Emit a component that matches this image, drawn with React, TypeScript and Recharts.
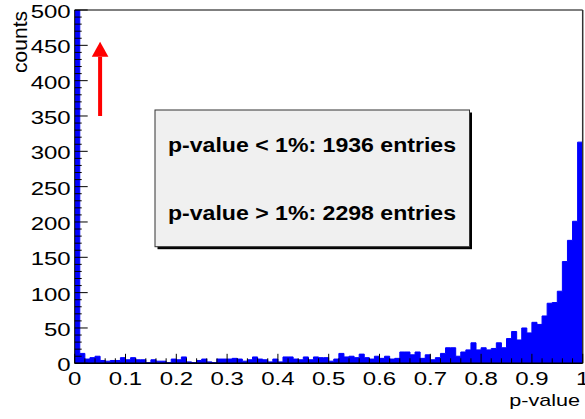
import React from 'react';
import { ComposedChart, Area, XAxis, YAxis, ReferenceLine } from 'recharts';

// Entries per p-value bin (100 bins of width 0.01 from 0 to 1)
const binCounts: number[] = [
  1936, 14, 6, 8, 10, 4, 3, 4, 4, 8,
  5, 8, 5, 5, 1, 5, 3, 3, 1, 6,
  5, 9, 2, 1, 4, 6, 2, 1, 6, 6,
  6, 7, 6, 3, 5, 9, 6, 5, 2, 6,
  2, 9, 9, 6, 5, 9, 5, 9, 8, 8,
  3, 6, 14, 9, 10, 8, 13, 8, 6, 10,
  7, 10, 6, 7, 16, 16, 12, 16, 7, 12,
  5, 8, 14, 22, 22, 10, 16, 19, 29, 19,
  22, 19, 21, 29, 22, 35, 45, 33, 50, 43,
  58, 55, 67, 85, 86, 102, 144, 174, 201, 313,
];
const binWidth = 0.01;

const xTickLabels = ['0', '0.1', '0.2', '0.3', '0.4', '0.5', '0.6', '0.7', '0.8', '0.9', '1'];
const yTickLabels = ['0', '50', '100', '150', '200', '250', '300', '350', '400', '450', '500'];

const legendLines = ['p-value < 1%: 1936 entries', 'p-value > 1%: 2298 entries'];
const xTitle = 'p-value';
const yTitle = 'counts';

// Arrow marking the overflowing first bin
const arrowFrom = { x: 0.05, y: 350 };
const arrowTo = { x: 0.05, y: 455 };

// Step outline: one point per bin lower edge, plus the closing edge at 1
const histData = [
  ...binCounts.map((c, i) => ({ edge: Number((i * binWidth).toFixed(2)), counts: c })),
  { edge: 1, counts: binCounts[binCounts.length - 1] },
];

// Major ticks every 0.1, minor every 0.02 on x; major every 50, minor every 10 on y
const xTicks = Array.from({ length: 51 }, (_, i) => Number((i * 0.02).toFixed(2)));
const yTicks = Array.from({ length: 51 }, (_, i) => i * 10);

const FONT = "'Liberation Sans', Arial, Helvetica, sans-serif";

const XTick = (props: any) => {
  const { x, y, index } = props;
  const major = index % 5 === 0;
  return (
    <g>
      <line x1={x} y1={y} x2={x} y2={y - (major ? 9.5 : 5)} stroke="#000" strokeWidth={1} />
      {major && (
        <text
          transform={`translate(${x},${y + 22}) scale(1.29,1)`}
          textAnchor="middle"
          fontFamily={FONT}
          fontSize={18.6}
          fill="#000"
        >
          {xTickLabels[index / 5]}
        </text>
      )}
    </g>
  );
};

const YTick = (props: any) => {
  const { x, y, index } = props;
  const major = index % 5 === 0;
  return (
    <g>
      <line x1={x} y1={y} x2={x + (major ? 13 : 7)} y2={y} stroke="#000" strokeWidth={1} />
      {major && (
        <text
          transform={`translate(${x - 4},${y + 8}) scale(1.29,1)`}
          textAnchor="end"
          fontFamily={FONT}
          fontSize={18.6}
          fill="#000"
        >
          {yTickLabels[index / 5]}
        </text>
      )}
    </g>
  );
};

const ArrowShape = (props: any) => {
  const { x1, y1, x2, y2 } = props;
  const headLen = 15;
  const headHalf = 8.3;
  return (
    <g>
      <line x1={x1} y1={y1} x2={x2} y2={y2 + headLen} stroke="#ff0000" strokeWidth={4} />
      <polygon
        points={`${x2},${y2} ${x2 - headHalf},${y2 + headLen} ${x2 + headHalf},${y2 + headLen}`}
        fill="#ff0000"
      />
    </g>
  );
};

export default function App() {
  return (
    <div style={{ position: 'absolute', left: 0, top: 0, width: 585, height: 419, background: '#fff' }}>
      <ComposedChart
        width={585}
        height={419}
        data={histData}
        margin={{ top: 10, right: 2.3, bottom: 0, left: 0 }}
      >
        <Area
          type="stepAfter"
          dataKey="counts"
          stroke="#0000ff"
          fill="#0000ff"
          fillOpacity={1}
          strokeWidth={1}
          dot={false}
          activeDot={false}
          isAnimationActive={false}
        />
        <XAxis
          dataKey="edge"
          type="number"
          domain={[0, 1]}
          allowDataOverflow
          ticks={xTicks}
          interval={0}
          height={55.7}
          tickSize={0}
          tickMargin={0}
          tickLine={false}
          axisLine={{ stroke: '#000', strokeWidth: 1.5 }}
          tick={<XTick />}
        />
        <YAxis
          type="number"
          domain={[0, 500]}
          allowDataOverflow
          ticks={yTicks}
          interval={0}
          width={74.7}
          tickSize={0}
          tickMargin={0}
          tickLine={false}
          axisLine={{ stroke: '#000', strokeWidth: 1 }}
          tick={<YTick />}
        />
        <ReferenceLine y={500} stroke="#000" strokeWidth={1} />
        <ReferenceLine x={1} stroke="#333" strokeWidth={1.5} />
        <ReferenceLine segment={[arrowFrom, arrowTo]} shape={<ArrowShape />} />
      </ComposedChart>
      <svg
        width={585}
        height={419}
        style={{ position: 'absolute', left: 0, top: 0, pointerEvents: 'none' }}
      >
        <text
          transform="translate(27,11) rotate(-90)"
          textAnchor="end"
          fontFamily={FONT}
          fontSize={21}
          fill="#000"
        >
          {yTitle}
        </text>
        <text
          transform="translate(580,406) scale(1.27,1)"
          textAnchor="end"
          fontFamily={FONT}
          fontSize={17}
          fill="#000"
        >
          {xTitle}
        </text>
        <rect x={157.5} y={112.5} width={314.5} height={136.7} fill="#000" />
        <rect x={155} y={110} width={314.5} height={136.7} fill="#f0f0f0" stroke="#333" strokeWidth={1} />
        {legendLines.map((line, i) => (
          <text
            key={line}
            transform={`translate(312,${151.7 + i * 68.3}) scale(1.1,1)`}
            textAnchor="middle"
            fontFamily={FONT}
            fontSize={21}
            fontWeight="bold"
            fill="#000"
          >
            {line}
          </text>
        ))}
      </svg>
    </div>
  );
}
